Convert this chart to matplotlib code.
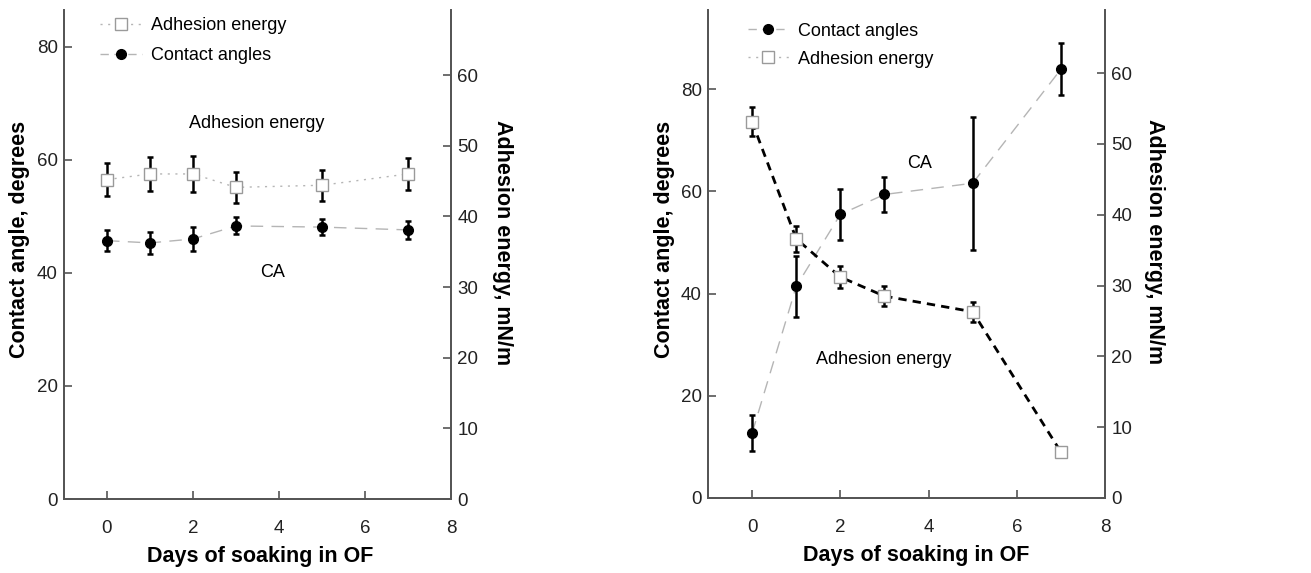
import numpy as np
import matplotlib
matplotlib.use("Agg")
import matplotlib.pyplot as plt
from matplotlib.lines import Line2D

plt.rcParams['font.family'] = ['Liberation Sans', 'DejaVu Sans']

# days of soaking
days = [0, 1, 2, 3, 5, 7]

# left panel
ca_left = [45.7, 45.3, 46.0, 48.3, 48.1, 47.6]
ca_left_err = [1.8, 1.9, 2.2, 1.5, 1.4, 1.6]
ae_left = [45.2, 46.0, 46.0, 44.1, 44.4, 46.0]
ae_left_err = [2.3, 2.4, 2.5, 2.2, 2.2, 2.3]

# right panel
ca_right = [12.7, 41.4, 55.5, 59.4, 61.6, 83.9]
ca_right_err = [3.5, 6.0, 5.0, 3.5, 13.0, 5.1]
ae_right = [53.1, 36.6, 31.2, 28.5, 26.3, 6.5]
ae_right_err = [2.05, 1.8, 1.6, 1.4, 1.4, 0.0]

xticks = [0, 2, 4, 6, 8]
spine_col = '#555555'
line_grey = '#b5b5b5'
sq_edge = '#9a9a9a'
tick_fs = 13.5
text_fs = 13
label_fs = 15.5


def style_axes(ax, ax2, ylim_l, ylim_r, yticks_l, yticks_r):
    ax.set_xlim(-1, 8)
    ax.set_ylim(*ylim_l)
    ax2.set_ylim(*ylim_r)
    ax.set_xticks(xticks)
    ax.set_yticks(yticks_l)
    ax2.set_yticks(yticks_r)
    for a in (ax, ax2):
        a.spines['top'].set_visible(False)
        for s in ('left', 'right', 'bottom'):
            a.spines[s].set_color(spine_col)
            a.spines[s].set_linewidth(1.3)
        a.tick_params(direction='in', length=6, width=1.2, color=spine_col,
                      labelsize=tick_fs, labelcolor='#222222', pad=4.5)
    ax.tick_params(axis='x', pad=15)
    ax.set_xlabel("Days of soaking in OF", fontsize=label_fs, fontweight='bold')
    ax.set_ylabel("Contact angle, degrees", fontsize=label_fs, fontweight='bold')
    ax2.set_ylabel("Adhesion energy, mN/m", fontsize=label_fs, fontweight='bold',
                   rotation=270)


fig = plt.figure(figsize=(13.11, 5.73), dpi=100)

# ---------------- left panel ----------------
axL = fig.add_axes([64/1311, 74/573, 387/1311, 489/573])
axL2 = axL.twinx()
axL.plot(days, ca_left, color=line_grey, lw=1.0, dashes=(9, 6), zorder=1)
axL.errorbar(days, ca_left, yerr=ca_left_err, fmt='o', color='black',
             ms=7, capsize=2.5, capthick=1.8, elinewidth=1.8, zorder=3)
axL2.plot(days, ae_left, color=line_grey, lw=1.0, ls=(0, (1.5, 4)), zorder=1)
axL2.errorbar(days, ae_left, yerr=ae_left_err, fmt='none', ecolor='black',
              capsize=2.5, capthick=1.8, elinewidth=1.8, zorder=2)
axL2.plot(days, ae_left, ls='none', marker='s', ms=8, mfc='white',
          mec=sq_edge, mew=1.0, zorder=3)
style_axes(axL, axL2, (0, 86.5), (0, 69.2), [0, 20, 40, 60, 80],
           [0, 10, 20, 30, 40, 50, 60])
axL.xaxis.set_label_coords(0.506, -0.096)
axL.yaxis.set_label_coords(-0.088, 0.53)
axL2.yaxis.set_label_coords(1.16, 0.525)
axL.text(3.48, 66.5, "Adhesion energy", fontsize=text_fs, ha='center', va='center')
axL.text(3.85, 40.0, "CA", fontsize=text_fs, ha='center', va='center')
hL = [Line2D([], [], color=line_grey, lw=1.0, ls=(0, (1.5, 4)), marker='s',
             ms=8, mfc='white', mec=sq_edge, mew=1.0),
      Line2D([], [], color=line_grey, lw=1.0, dashes=(6, 4), marker='o',
             ms=7, mfc='black', mec='black')]
axL2.legend(hL, ["Adhesion energy", "Contact angles"], loc='upper left',
            bbox_to_anchor=(0.093, 0.986), frameon=False, fontsize=text_fs,
            borderpad=0, borderaxespad=0, handlelength=2.3,
            handletextpad=0.5, labelspacing=0.75)

# ---------------- right panel ----------------
axR = fig.add_axes([708/1311, 75/573, 397/1311, 488/573])
axR2 = axR.twinx()
axR.plot(days, ca_right, color=line_grey, lw=1.0, dashes=(9, 6), zorder=1)
axR.errorbar(days, ca_right, yerr=ca_right_err, fmt='o', color='black',
             ms=7, capsize=2.5, capthick=1.8, elinewidth=1.8, zorder=3)
axR2.plot(days, ae_right, color='black', lw=2.0, dashes=(3, 2.2), zorder=1)
axR2.errorbar(days, ae_right, yerr=ae_right_err, fmt='none', ecolor='black',
              capsize=2.5, capthick=1.8, elinewidth=1.8, zorder=2)
axR2.plot(days, ae_right, ls='none', marker='s', ms=8, mfc='white',
          mec=sq_edge, mew=1.0, zorder=3)
style_axes(axR, axR2, (0, 95.5), (0, 68.9), [0, 20, 40, 60, 80],
           [0, 10, 20, 30, 40, 50, 60])
axR.xaxis.set_label_coords(0.524, -0.096)
axR.yaxis.set_label_coords(-0.083, 0.53)
axR2.yaxis.set_label_coords(1.151, 0.525)
axR.text(3.8, 65.4, "CA", fontsize=text_fs, ha='center', va='center')
axR.text(2.98, 27.2, "Adhesion energy", fontsize=text_fs, ha='center', va='center')
hR = [Line2D([], [], color=line_grey, lw=1.0, dashes=(6, 4), marker='o',
             ms=7, mfc='black', mec='black'),
      Line2D([], [], color=line_grey, lw=1.0, ls=(0, (1.5, 4)), marker='s',
             ms=8, mfc='white', mec=sq_edge, mew=1.0)]
axR2.legend(hR, ["Contact angles", "Adhesion energy"], loc='upper left',
            bbox_to_anchor=(0.10, 0.974), frameon=False, fontsize=text_fs,
            borderpad=0, borderaxespad=0, handlelength=2.3,
            handletextpad=0.5, labelspacing=0.6)

fig.savefig("out.png", dpi=100)
